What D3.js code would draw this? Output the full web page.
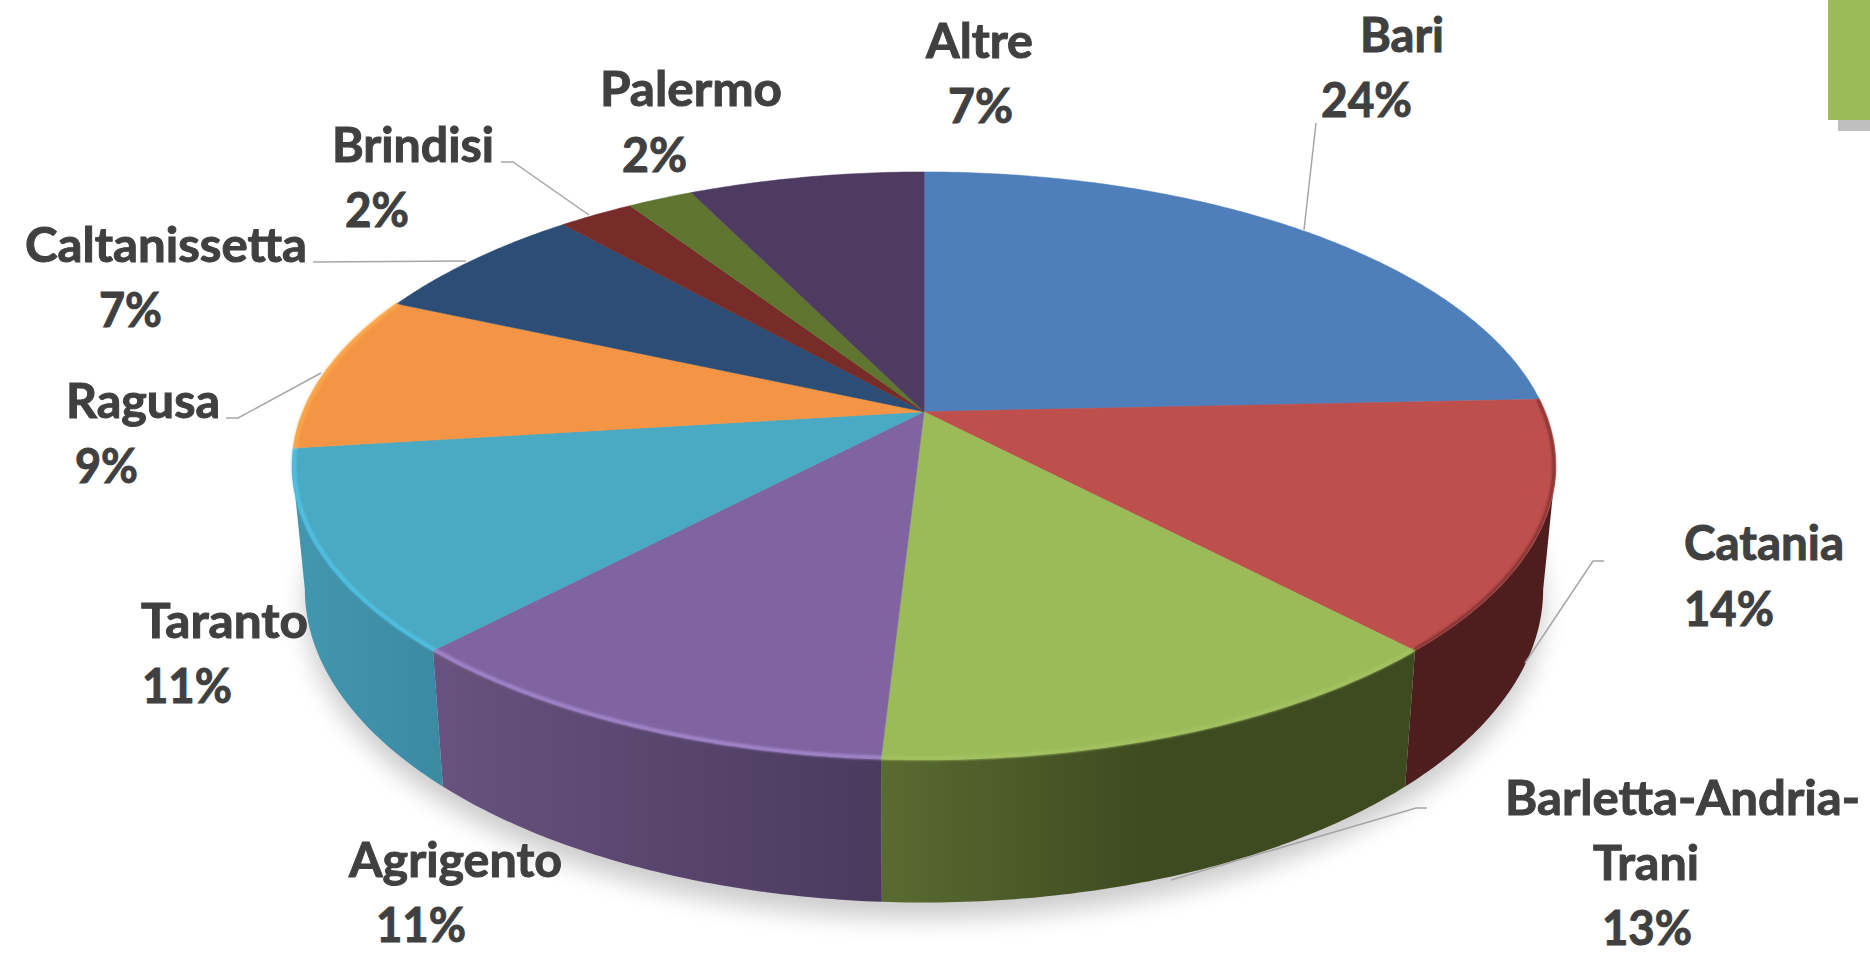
<!DOCTYPE html>
<html>
<head>
<meta charset="utf-8">
<title>Pie</title>
<script src="https://cdnjs.cloudflare.com/ajax/libs/d3/7.8.5/d3.min.js"></script>
<style>
  html, body { margin: 0; padding: 0; background: #fff; overflow: hidden; }
  text { font-family: Lato, "Open Sans", sans-serif; font-weight: 700; font-size: 48px; fill: #404040; stroke: #404040; stroke-width: 1px; }
</style>
</head>
<body>
<div id="chart"></div>
<script>
// values (slices are drawn clockwise from the top)
const categories = ["Bari", "Catania", "Barletta-Andria-Trani", "Agrigento", "Taranto", "Ragusa", "Caltanissetta", "Brindisi", "Palermo", "Altre"];
const values = [24.3, 13.7, 12.9, 11.1, 11, 8.7, 6.8, 2.3, 2.0, 7.2];

const topColors = ["#4e7fba", "#bd4f4d", "#9bbb59", "#8064a2", "#4aa9c3", "#f49545", "#2c4d75", "#772c2a", "#5f7530", "#4d3b62"];
const rimColors = ["#3f6a9e", "#7a2f2d", "#a2c160", "#a184c8", "#50c0e2", "#fba748", "#2c4d75", "#772c2a", "#5f7530", "#4d3b62"];
const sideLeft  = ["#3c608e", "#4e1e1e", "#5a6b31", "#68527f", "#4497b0", "#b36a2c", "#203a58", "#5a2020", "#475824", "#3a2c4a"];
const sideRight = ["#3c608e", "#4e1e1e", "#3e4a20", "#4a3a5e", "#3a8aa2", "#b36a2c", "#203a58", "#5a2020", "#475824", "#3a2c4a"];

// label lines: text, left edge, right edge, baseline
const labelLines = [
  ["Bari", 1360, 1444, 52], ["24%", 1321, 1412, 117],
  ["Catania", 1684, 1844, 560], ["14%", 1684, 1774, 626],
  ["Barletta-Andria-", 1505, 1860, 815], ["Trani", 1593, 1699, 880], ["13%", 1602, 1692, 945],
  ["Agrigento", 349, 562, 877], ["11%", 376, 466, 942],
  ["Taranto", 141, 308, 638], ["11%", 142, 232, 703],
  ["Ragusa", 66, 220, 418], ["9%", 75, 138, 483],
  ["Caltanissetta", 25, 307, 262], ["7%", 99, 162, 327],
  ["Brindisi", 332, 494, 162], ["2%", 345, 409, 227],
  ["Palermo", 600, 782, 106], ["2%", 622, 687, 172],
  ["Altre", 926, 1033, 58], ["7%", 948, 1013, 123]
];

// leader lines
const leaders = [
  [[1316, 123], [1304, 230]],
  [[1604, 561], [1593, 561], [1525, 663]],
  [[1427, 808], [1416, 808], [1171, 880]],
  [[226, 418], [238, 418], [321, 373]],
  [[313, 262], [466, 261]],
  [[501, 162], [513, 162], [589, 215]]
];

const width = 1870, height = 959;

// perspective of the tilted disc
const cx = 924, cy = 411.7, A = 621, B = 283.9, k = 0.184;
const bottomCy = 532, bottomX = 0.98, bottomY = 1.065;

const svg = d3.select("#chart").append("svg")
  .attr("width", width)
  .attr("height", height)
  .style("display", "block");

const defs = svg.append("defs");
defs.append("filter").attr("id", "shadowBlur")
  .attr("filterUnits", "userSpaceOnUse")
  .attr("x", 0).attr("y", 0).attr("width", width).attr("height", height)
  .append("feGaussianBlur").attr("stdDeviation", 12);
defs.append("filter").attr("id", "rimBlur")
  .attr("filterUnits", "userSpaceOnUse")
  .attr("x", 0).attr("y", 0).attr("width", width).attr("height", height)
  .append("feGaussianBlur").attr("stdDeviation", 1.1);

function topPoint(a, r = 1) {
  const w = 1 + k * r * Math.cos(a);
  return [cx + A * r * Math.sin(a) / w, cy - B * r * Math.cos(a) / w];
}
function bottomPoint(a) {
  const w = 1 + k * Math.cos(a);
  return [cx + bottomX * A * Math.sin(a) / w, bottomCy - bottomY * B * Math.cos(a) / w];
}
function sweep(a0, a1) {
  const n = Math.max(2, Math.ceil((a1 - a0) * 90));
  return d3.range(n + 1).map(i => a0 + (a1 - a0) * i / n);
}

const line = d3.line();
const slices = d3.pie().sort(null).value(d => d)(values);

// soft shadow under the disc
svg.append("path")
  .attr("d", line(sweep(0, 2 * Math.PI).map(a => {
    const p = bottomPoint(a);
    return [p[0], p[1] + 16];
  })) + "Z")
  .attr("fill", "#000")
  .attr("opacity", 0.2)
  .attr("filter", "url(#shadowBlur)");

// side wall, only the part facing the viewer
const sideMin = Math.PI - Math.acos(k), sideMax = Math.PI + Math.acos(k);
const visible = slices.filter(d => d.endAngle > sideMin && d.startAngle < sideMax);

visible.forEach(d => {
  const a0 = Math.max(d.startAngle, sideMin), a1 = Math.min(d.endAngle, sideMax);
  const xs = [topPoint(a0)[0], topPoint(a1)[0], bottomPoint(a0)[0], bottomPoint(a1)[0]];
  const grad = defs.append("linearGradient")
    .attr("id", "side" + d.index)
    .attr("gradientUnits", "userSpaceOnUse")
    .attr("x1", d3.min(xs)).attr("x2", d3.max(xs))
    .attr("y1", 0).attr("y2", 0);
  grad.append("stop").attr("offset", 0).attr("stop-color", sideLeft[d.index]);
  // green goes dark about halfway and then stays flat
  grad.append("stop").attr("offset", d.index === 2 ? 0.5 : 1).attr("stop-color", sideRight[d.index]);

  const pts = sweep(a0, a1).map(a => topPoint(a))
    .concat(sweep(a0, a1).reverse().map(a => bottomPoint(a)));
  svg.append("path")
    .attr("class", "side")
    .attr("d", line(pts) + "Z")
    .attr("fill", "url(#side" + d.index + ")");
});

// top face
svg.append("g").selectAll("path")
  .data(slices)
  .enter().append("path")
  .attr("d", d => line([[cx, cy]].concat(sweep(d.startAngle, d.endAngle).map(a => topPoint(a)))) + "Z")
  .attr("fill", d => topColors[d.index])
  .attr("stroke", d => topColors[d.index])
  .attr("stroke-width", 0.5);

// bevel along the rim, only on the near half and the orange slice
svg.append("g").attr("filter", "url(#rimBlur)").selectAll("path")
  .data(slices.filter(d => d.index >= 1 && d.index <= 5))
  .enter().append("path")
  .attr("d", d => line(sweep(d.startAngle, d.endAngle).map(a => topPoint(a, 0.997))))
  .attr("fill", "none")
  .attr("stroke", d => rimColors[d.index])
  .attr("stroke-width", d => d.index === 1 ? 2.5 : 4);

// leader lines
svg.append("g").selectAll("path")
  .data(leaders)
  .enter().append("path")
  .attr("d", d => line(d))
  .attr("fill", "none")
  .attr("stroke", "#a6a6a6")
  .attr("stroke-width", 1.5);

// labels
svg.append("g").selectAll("text")
  .data(labelLines)
  .enter().append("text")
  .attr("x", d => d[1])
  .attr("y", d => d[3])
  .attr("textLength", d => d[2] - d[1])
  .attr("lengthAdjust", "spacingAndGlyphs")
  .text(d => d[0]);

// corner decoration from the slide
svg.append("rect").attr("x", 1838).attr("y", 120).attr("width", 32).attr("height", 11).attr("fill", "#bfbfbf");
svg.append("rect").attr("x", 1828).attr("y", 0).attr("width", 42).attr("height", 120).attr("fill", "#9bbb59");
</script>
</body>
</html>
